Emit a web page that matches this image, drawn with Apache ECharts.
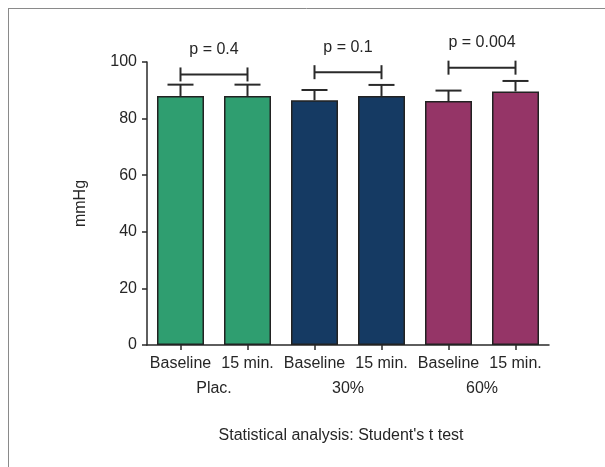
<!DOCTYPE html>
<html><head><meta charset="utf-8">
<script src="https://cdn.jsdelivr.net/npm/echarts@6/dist/echarts.min.js"></script>
<style>html,body{margin:0;padding:0;background:#fff}#c{width:605px;height:467px}</style>
</head><body><div id="c"></div>
<script>
var categories = ['Baseline', '15 min.', 'Baseline', '15 min.', 'Baseline', '15 min.'];
var groups = ['Plac.', '30%', '60%'];
var means = [88.0, 88.0, 86.5, 88.0, 86.2, 89.6];
var upper = [92.0, 92.0, 90.1, 91.9, 89.9, 93.3];
var barColors = ['#2f9e70', '#2f9e70', '#153a63', '#153a63', '#953567', '#953567'];
var brackets = [[0, 1, 95.6, 'p = 0.4'], [2, 3, 96.4, 'p = 0.1'], [4, 5, 98.0, 'p = 0.004']];
var yTicks = [0, 20, 40, 60, 80, 100];
var note = "Statistical analysis: Student's t test";

var FONT = "'Liberation Sans', Arial, sans-serif";
var TXT = '#262626';
var LINE = '#2a2a2a';

var chart = echarts.init(document.getElementById('c'), null, {renderer: 'canvas'});
chart.setOption({
  animation: false,
  backgroundColor: '#fff',
  grid: {left: 147, right: 56, top: 62, bottom: 122, containLabel: false},
  xAxis: [{
    type: 'category', data: categories, position: 'bottom',
    axisLine: {lineStyle: {color: LINE, width: 1.5}},
    axisTick: {show: true, length: 5, alignWithLabel: true, lineStyle: {color: LINE, width: 1.5}},
    axisLabel: {color: TXT, fontFamily: FONT, fontSize: 16, margin: 11, interval: 0}
  }, {
    type: 'category', data: groups, position: 'bottom',
    axisLine: {show: false}, axisTick: {show: false},
    axisLabel: {color: TXT, fontFamily: FONT, fontSize: 16, margin: 36, interval: 0}
  }],
  yAxis: {
    type: 'value', min: 0, max: 100, interval: 20,
    name: 'mmHg', nameLocation: 'middle', nameGap: 58, nameRotate: 90,
    nameTextStyle: {color: TXT, fontFamily: FONT, fontSize: 16},
    axisLine: {show: true, lineStyle: {color: LINE, width: 1.5}},
    axisTick: {show: true, length: 5, lineStyle: {color: LINE, width: 1.5}},
    axisLabel: {color: TXT, fontFamily: FONT, fontSize: 16, margin: 10,
      formatter: function (v) { return yTicks.indexOf(v) >= 0 ? String(v) : ''; }},
    splitLine: {show: false}
  },
  series: [{
    type: 'bar', xAxisIndex: 0, barWidth: 47,
    data: means.map(function (v, i) {
      return {value: v, itemStyle: {color: barColors[i], borderColor: '#222', borderWidth: 1.5}};
    }),
    z: 2
  }, {
    type: 'custom', xAxisIndex: 0, z: 3,
    data: means.map(function (v, i) { return [i, v, upper[i]]; }),
    renderItem: function (params, api) {
      var p0 = api.coord([api.value(0), api.value(1)]);
      var p1 = api.coord([api.value(0), api.value(2)]);
      var hw = 13;
      return {type: 'group', children: [
        {type: 'line', shape: {x1: p0[0], y1: p0[1], x2: p1[0], y2: p1[1]}, style: {stroke: LINE, lineWidth: 2}},
        {type: 'line', shape: {x1: p1[0] - hw, y1: p1[1], x2: p1[0] + hw, y2: p1[1]}, style: {stroke: LINE, lineWidth: 2}}
      ]};
    }
  }, {
    type: 'custom', xAxisIndex: 0, z: 3, clip: false,
    data: brackets,
    renderItem: function (params, api) {
      var a = api.coord([api.value(0), api.value(2)]);
      var b = api.coord([api.value(1), api.value(2)]);
      var t = 7;
      var label = brackets[params.dataIndex][3];
      return {type: 'group', children: [
        {type: 'line', shape: {x1: a[0], y1: a[1], x2: b[0], y2: b[1]}, style: {stroke: LINE, lineWidth: 2}},
        {type: 'line', shape: {x1: a[0], y1: a[1] - t, x2: a[0], y2: a[1] + t}, style: {stroke: LINE, lineWidth: 2}},
        {type: 'line', shape: {x1: b[0], y1: b[1] - t, x2: b[0], y2: b[1] + t}, style: {stroke: LINE, lineWidth: 2}},
        {type: 'text', style: {x: (a[0] + b[0]) / 2, y: a[1] - 25, text: label, align: 'center', verticalAlign: 'middle',
          fill: TXT, font: '16px ' + FONT}}
      ]};
    }
  }],
  graphic: [
    {type: 'line', shape: {x1: 8, y1: 8.5, x2: 605, y2: 8.5}, style: {stroke: '#8a8a8a', lineWidth: 1}},
    {type: 'line', shape: {x1: 8.5, y1: 8, x2: 8.5, y2: 467}, style: {stroke: '#8a8a8a', lineWidth: 1}},
    {type: 'text', x: 341, y: 436, style: {text: note, fill: TXT, font: '16px ' + FONT, align: 'center', verticalAlign: 'middle'}}
  ]
});
</script></body></html>
